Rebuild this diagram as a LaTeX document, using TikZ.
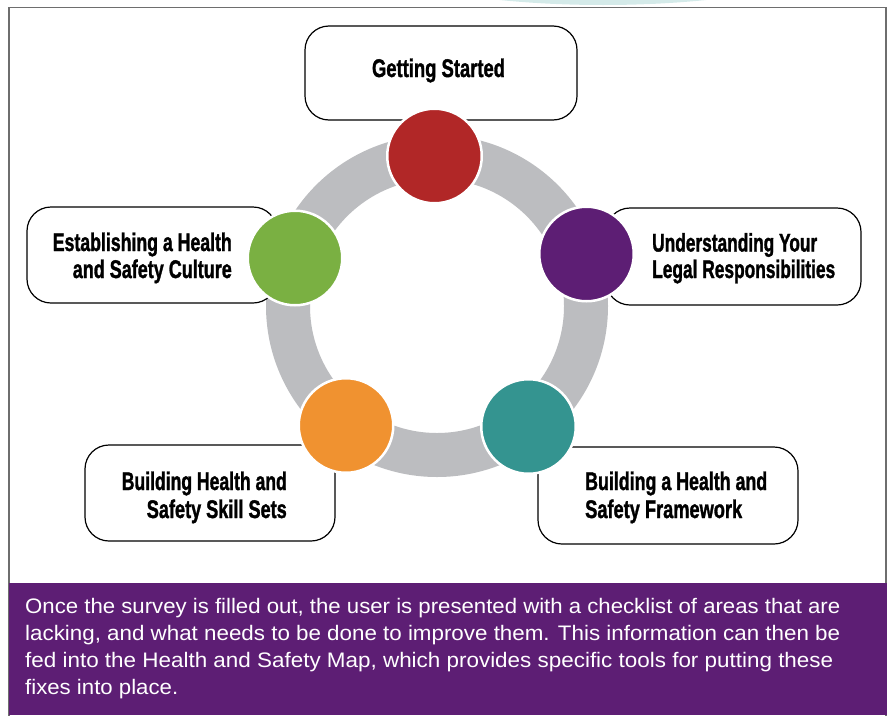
\documentclass[tikz,border=0pt]{standalone}
\usepackage{fontspec}
\setmainfont{Liberation Sans}
\newfontfamily\lblfont[BoldFeatures={FakeBold=1.6}]{Liberation Sans}
\usepackage{graphicx}

\definecolor{topteal}{HTML}{D4EAE9}
\definecolor{framegray}{HTML}{6E6E6E}
\definecolor{ringgray}{HTML}{BCBDC0}
\definecolor{bandpurple}{HTML}{5D1E74}
\definecolor{cred}{HTML}{B12727}
\definecolor{cpurple}{HTML}{5D1E74}
\definecolor{cteal}{HTML}{349490}
\definecolor{corange}{HTML}{F09230}
\definecolor{cgreen}{HTML}{7AB042}

% squeeze a line of text to a given width, keeping its height
\newcommand{\fitw}[2]{\resizebox{#1}{\height}{#2}}

\begin{document}
\begin{tikzpicture}[x=1pt,y=-1pt,
  labelbox/.style={draw=black, line width=1.2pt, fill=white, rounded corners=24pt, inner sep=0pt},
  disc/.style={circle, draw=white, line width=2.5pt, minimum size=94.5pt, inner sep=0pt},
  lbl/.style={font=\fontsize{25.5}{28}\selectfont\lblfont\bfseries, text=black, inner sep=0pt},
  bodyline/.style={font=\fontsize{21}{27}\selectfont, text=white, inner sep=0pt, anchor=base west}]
\useasboundingbox (0,0) rectangle (891,715);
\clip (0,0) rectangle (891,715);

% light shape peeking in at the top edge
\fill[topteal] (603,-60) ellipse [x radius=268pt, y radius=65pt];

% outer frame and caption band
\fill[white] (9,7.5) rectangle (886,715);
\draw[framegray, line width=1.3pt] (9,7.5) rectangle (886,730);
\fill[bandpurple] (9,583) rectangle (887,715);

% grey ring linking the five stages
\fill[ringgray, even odd rule] (437,306) circle (171pt) (437,306) circle (127pt);

% label boxes
\node[labelbox, minimum width=272pt, minimum height=94pt] (bGS) at (441,73) {};
\node[labelbox, minimum width=250pt, minimum height=96pt] (bEL) at (152,255) {};
\node[labelbox, minimum width=255pt, minimum height=97pt] (bUN) at (733.5,256.5) {};
\node[labelbox, minimum width=250pt, minimum height=96pt] (bSK) at (210,493) {};
\node[labelbox, minimum width=260pt, minimum height=97pt] (bFW) at (668,495.5) {};

% stage discs
\node[disc, fill=cred]    (cGS) at (434.5,156) {};
\node[disc, fill=cpurple] (cUN) at (586.5,254) {};
\node[disc, fill=cteal]   (cFW) at (528.5,426.5) {};
\node[disc, fill=corange] (cSK) at (346,425.5) {};
\node[disc, fill=cgreen]  (cEL) at (295,258) {};

% label texts
\node[lbl, anchor=base] (tGS) at (438.5,77) {\fitw{133pt}{Getting Started}};
\node[lbl, anchor=base east] (tEL1) at (232,251) {\fitw{179pt}{Establishing a Health}};
\node[lbl, anchor=base east] (tEL2) at (232,278) {\fitw{159pt}{and Safety Culture}};
\node[lbl, anchor=base west] (tUN1) at (652,251.5) {\fitw{165pt}{Understanding Your}};
\node[lbl, anchor=base west] (tUN2) at (652,278) {\fitw{183pt}{Legal Responsibilities}};
\node[lbl, anchor=base east] (tSK1) at (287,490) {\fitw{165pt}{Building Health and}};
\node[lbl, anchor=base east] (tSK2) at (287,518) {\fitw{140pt}{Safety Skill Sets}};
\node[lbl, anchor=base west] (tFW1) at (585,490) {\fitw{182pt}{Building a Health and}};
\node[lbl, anchor=base west] (tFW2) at (585,518) {\fitw{157pt}{Safety Framework}};

% caption text
\node[bodyline] (p1) at (25,613) {\fitw{815pt}{Once the survey is filled out, the user is presented with a checklist of areas that are}};
\node[bodyline] (p2) at (25,640) {\fitw{815pt}{lacking, and what needs to be done to improve them. This information can then be}};
\node[bodyline] (p3) at (25,667) {\fitw{808pt}{fed into the Health and Safety Map, which provides specific tools for putting these}};
\node[bodyline] (p4) at (25,694) {\fitw{153pt}{fixes into place.}};
\end{tikzpicture}
\end{document}
